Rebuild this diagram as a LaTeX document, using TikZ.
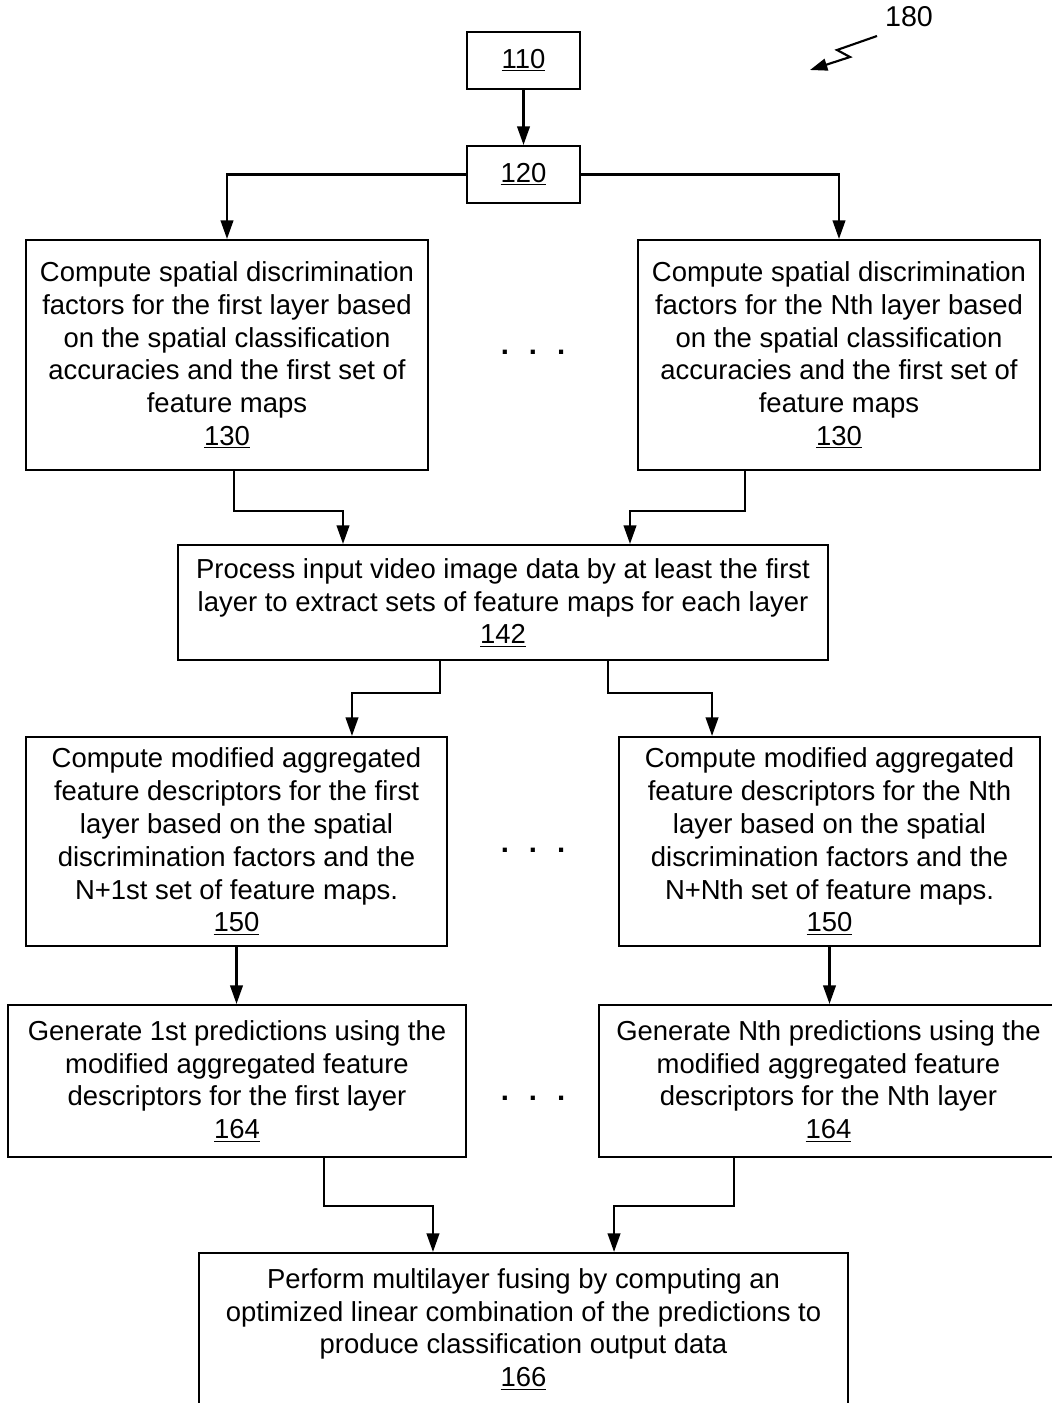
\documentclass[tikz,border=0pt]{standalone}
\usepackage{fontspec}
\setmainfont{Liberation Sans}
\usetikzlibrary{arrows.meta}
\begin{document}
\begin{tikzpicture}[x=0.75pt,y=-0.75pt,
  box/.style={draw, line width=1.6pt, align=center, inner sep=0pt,
    font=\fontsize{20.6pt}{24.6pt}\selectfont},
  arr/.style={line width=1.6pt, -{Triangle[length=14pt,width=9.5pt]}},
  dots/.style={font=\fontsize{22pt}{24pt}\selectfont\bfseries}]
\useasboundingbox (0,0) rectangle (1052,1403);
\clip (0,0) rectangle (1052,1403);
\fill[white] (0,0) rectangle (1052,1403);
\node[box, minimum width=84.75pt, minimum height=42.75pt] (b110) at (523.5,60.5) {\underline{110}};
\node[box, minimum width=84.75pt, minimum height=42.75pt] (b120) at (523.5,174.5) {\underline{120}};
\node[box, minimum width=301.5pt, minimum height=172.5pt] (b130l) at (227,355)
  {Compute spatial discrimination\\factors for the first layer based\\on the spatial classification\\accuracies and the first set of\\feature maps\\\underline{130}};
\node[box, minimum width=301.5pt, minimum height=172.5pt] (b130r) at (839,355)
  {Compute spatial discrimination\\factors for the Nth layer based\\on the spatial classification\\accuracies and the first set of\\feature maps\\\underline{130}};
\node[dots] (d1) at (533,352) {.\hspace{15pt}.\hspace{15pt}.};
\node[box, minimum width=487.5pt, minimum height=86.25pt] (b142) at (503,602.5)
  {Process input video image data by at least the first\\layer to extract sets of feature maps for each layer\\\underline{142}};
\node[box, minimum width=315.75pt, minimum height=156.75pt] (b150l) at (236.5,841.5)
  {Compute modified aggregated\\feature descriptors for the first\\layer based on the spatial\\discrimination factors and the\\N+1st set of feature maps.\\\underline{150}};
\node[box, minimum width=315.75pt, minimum height=156.75pt] (b150r) at (829.5,841.5)
  {Compute modified aggregated\\feature descriptors for the Nth\\layer based on the spatial\\discrimination factors and the\\N+Nth set of feature maps.\\\underline{150}};
\node[dots] (d2) at (533,850) {.\hspace{15pt}.\hspace{15pt}.};
\node[box, minimum width=343.5pt, minimum height=114pt] (b164l) at (237,1081)
  {Generate 1st predictions using the\\modified aggregated feature\\descriptors for the first layer\\\underline{164}};
\node[box, minimum width=344.25pt, minimum height=114pt] (b164r) at (828.5,1081)
  {Generate Nth predictions using the\\modified aggregated feature\\descriptors for the Nth layer\\\underline{164}};
\node[dots] (d3) at (533,1098) {.\hspace{15pt}.\hspace{15pt}.};
\node[box, minimum width=486.75pt, minimum height=114pt] (b166) at (523.5,1329)
  {Perform multilayer fusing by computing an\\optimized linear combination of the predictions to\\produce classification output data\\\underline{166}};
\node[font=\fontsize{21.5pt}{24pt}\selectfont] (l180) at (909,17) {180};
% connectors
\draw[arr] (b110) -- (b120);
\draw[arr] (b120.west) -| (b130l.north);
\draw[arr] (b120.east) -| (b130r.north);
\draw[arr] ([xshift=5.25pt]b130l.south) -- ++(0,40) -| ([xshift=-120pt]b142.north);
\draw[arr] ([xshift=-70.5pt]b130r.south) -- ++(0,40) -| ([xshift=95.25pt]b142.north);
\draw[arr] ([xshift=-47.25pt]b142.south) -- ++(0,32) -| ([xshift=86.6pt]b150l.north);
\draw[arr] ([xshift=78.75pt]b142.south) -- ++(0,32) -| ([xshift=-88.1pt]b150r.north);
\draw[arr] (b150l.south) -- (b150l.south |- b164l.north);
\draw[arr] (b150r.south) -- (b150r.south |- b164r.north);
\draw[arr] ([xshift=65.25pt]b164l.south) -- ++(0,48) -| ([xshift=-67.9pt]b166.north);
\draw[arr] ([xshift=-70.9pt]b164r.south) -- ++(0,48) -| ([xshift=67.9pt]b166.north);
\draw[line width=1.6pt, -{Triangle[length=13pt,width=9pt]}] (877,36) -- (837,50) -- (850,57) -- (810,70);
\end{tikzpicture}
\end{document}
